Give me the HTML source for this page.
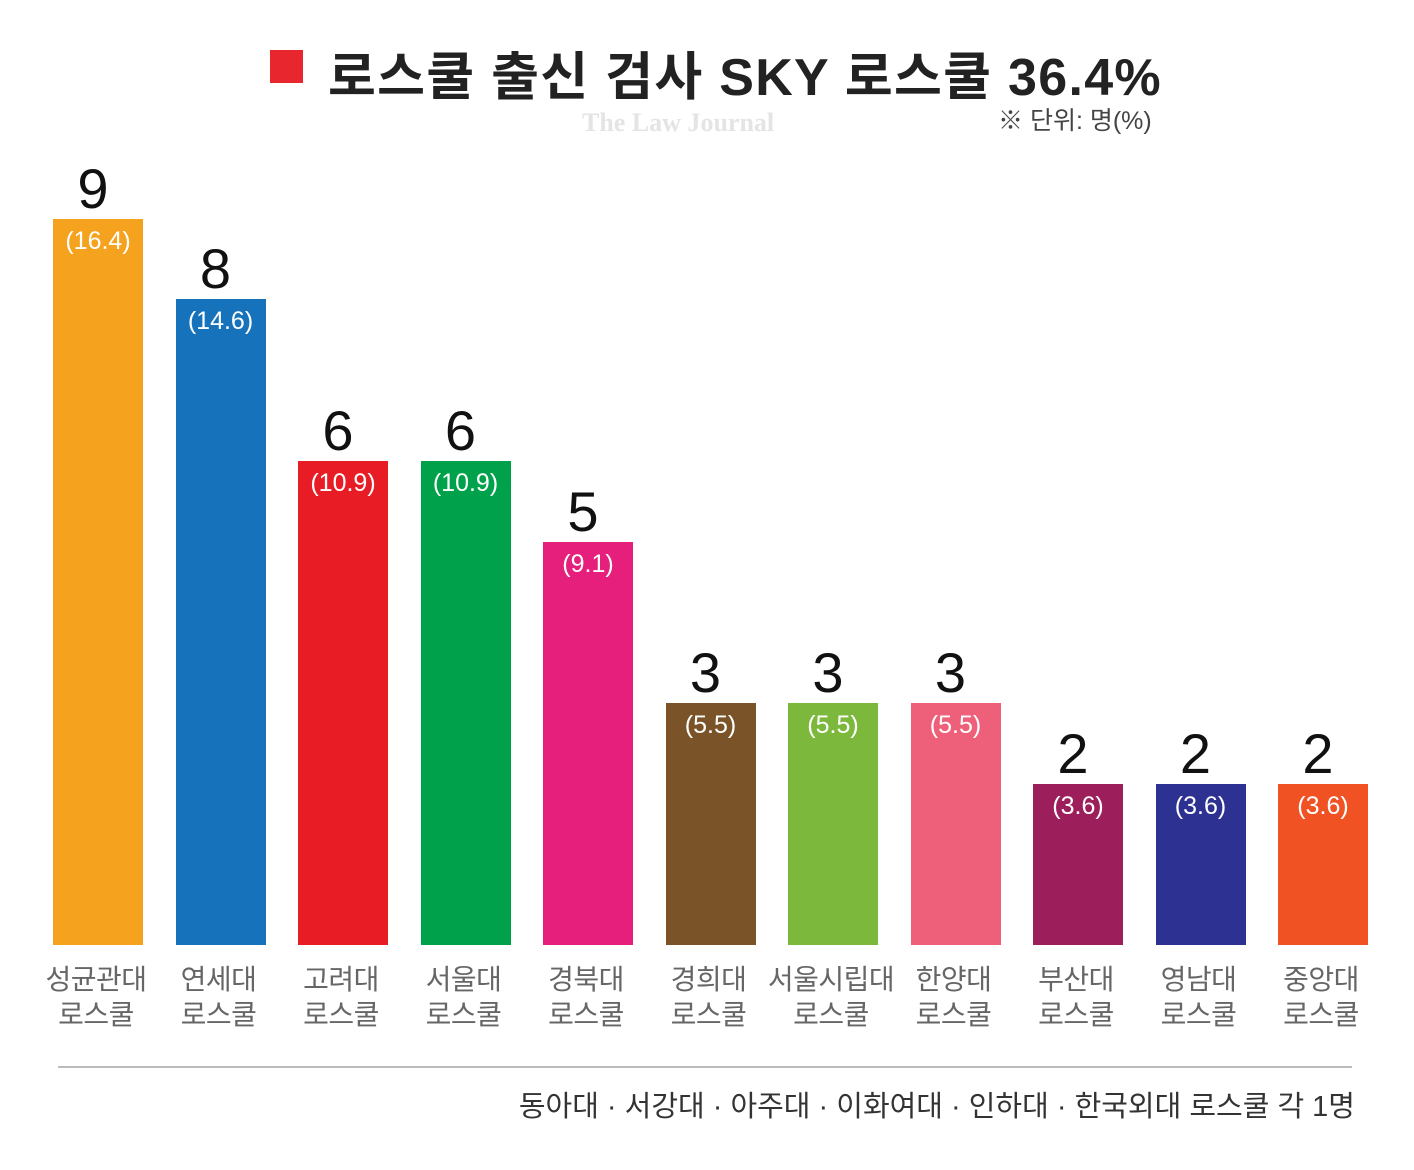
<!DOCTYPE html>
<html><head><meta charset="utf-8"><style>
body{margin:0;width:1414px;height:1170px;background:#fff;position:relative;overflow:hidden;font-family:"Liberation Sans","Noto Sans CJK KR",sans-serif}
.a{position:absolute}
.bar{position:absolute;width:90px;bottom:225px}
.n{position:absolute;width:140px;text-align:center;font-size:56px;color:#111;line-height:1}
.p{position:absolute;width:90px;text-align:center;font-size:25px;color:#fff;line-height:1}
.l{position:absolute;width:150px;text-align:center;font-size:28px;color:#666;line-height:35px;letter-spacing:-0.5px}
</style></head><body>
<div class="a" style="left:270px;top:50px;width:33px;height:33px;background:#e8262d"></div>
<div class="a" style="left:328px;top:35px;font-size:52px;font-weight:bold;color:#222;letter-spacing:1.3px;white-space:nowrap">로스쿨 출신 검사 SKY 로스쿨 36.4%</div>
<div class="a" style="left:582px;top:108px;font-size:26px;font-weight:bold;color:#e4e4e4;font-family:'Liberation Serif',serif">The Law Journal</div>
<div class="a" style="left:998px;top:101px;font-size:25px;color:#444;white-space:nowrap">※ 단위: 명(%)</div>
<div id="c"></div>
<div class="a" style="left:58px;top:1066px;width:1294px;height:2px;background:#bbb"></div>
<div class="a" style="right:59px;top:1083px;font-size:29px;color:#333;white-space:nowrap;letter-spacing:0px">동아대 · 서강대 · 아주대 · 이화여대 · 인하대 · 한국외대 로스쿨 각 1명</div>
<script>
var d=[[9,"16.4","#f5a31e","성균관대"],[8,"14.6","#1572bb","연세대"],[6,"10.9","#e81c24","고려대"],[6,"10.9","#00a14b","서울대"],[5,"9.1","#e61e7c","경북대"],[3,"5.5","#7a5428","경희대"],[3,"5.5","#7cb83c","서울시립대"],[3,"5.5","#ee5f79","한양대"],[2,"3.6","#9c1f5c","부산대"],[2,"3.6","#2d3191","영남대"],[2,"3.6","#f05223","중앙대"]];
var h="";
d.forEach(function(r,i){var x=53+i*122.5,top=945-r[0]*80.7;
h+='<div class="bar" style="left:'+x+'px;top:'+top+'px;height:'+(945-top)+'px;background:'+r[2]+'"></div>';
h+='<div class="n" style="left:'+(x-30)+'px;top:'+(top-58)+'px">'+r[0]+'</div>';
h+='<div class="p" style="left:'+x+'px;top:'+(top+10)+'px">('+r[1]+')</div>';
h+='<div class="l" style="left:'+(x-32)+'px;top:962px">'+r[3]+'<br>로스쿨</div>';});
document.getElementById("c").innerHTML=h;
</script>
</body></html>
